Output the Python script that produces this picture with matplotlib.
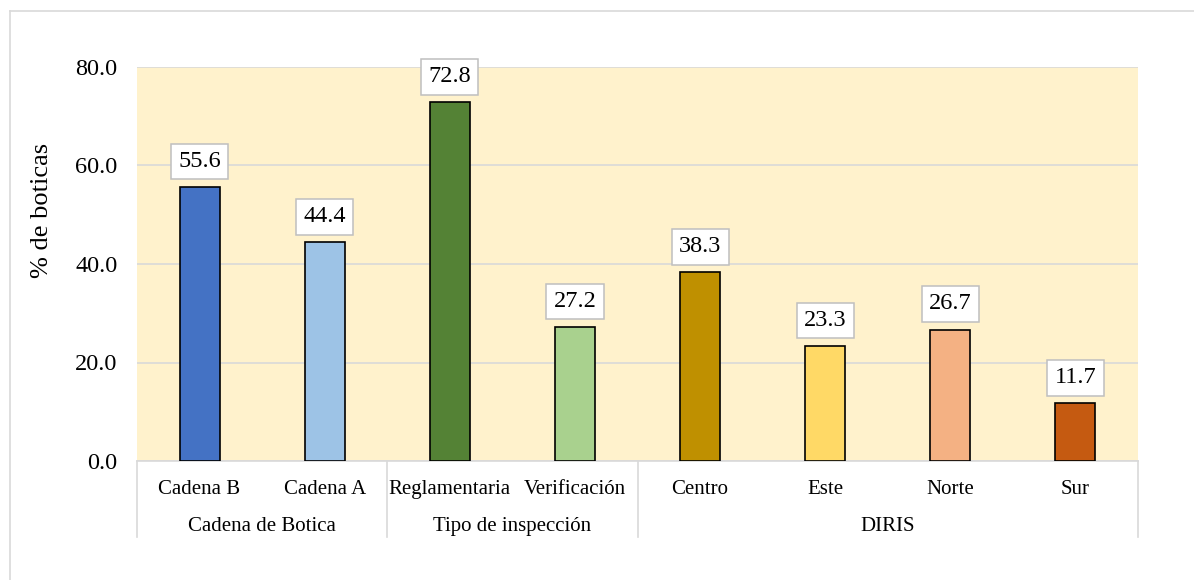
import numpy as np
import matplotlib
matplotlib.use("Agg")
from matplotlib import pyplot as plt
from matplotlib.lines import Line2D

plt.rcParams['font.family'] = ['Liberation Serif', 'DejaVu Serif']

# datos
categorias = ["Cadena B", "Cadena A", "Reglamentaria", "Verificación",
              "Centro", "Este", "Norte", "Sur"]
valores = [55.6, 44.4, 72.8, 27.2, 38.3, 23.3, 26.7, 11.7]
grupos = ["Cadena de Botica", "Tipo de inspección", "DIRIS"]
tam_grupos = [2, 2, 4]
colores = ["#4472C4", "#9DC3E6", "#548235", "#A9D18E",
           "#BF9000", "#FFD966", "#F4B183", "#C55A11"]

W, H = 1194, 580
fig = plt.figure(figsize=(W / 100, H / 100), dpi=100)
ax = fig.add_axes([137 / W, (H - 461) / H, 1001 / W, 394 / H])
ax.set_facecolor("#FFF2CC")

x = np.arange(len(categorias))
ax.bar(x, valores, width=0.32, color=colores, edgecolor="black", linewidth=1.2, zorder=3)

for xi, v in zip(x, valores):
    ax.annotate(f"{v:.1f}", (xi, v), xytext=(0, 18.4), textcoords="offset points",
                ha="center", va="center", fontsize=17.5, zorder=4,
                bbox=dict(boxstyle="square,pad=0.3", fc="white", ec="#BFBFBF", lw=1.1))

ax.set_xlim(-0.5, len(categorias) - 0.5)
ax.set_ylim(0, 80)
ax.set_yticks([0, 20, 40, 60, 80])
ax.set_yticklabels([f"{t:.1f}" for t in [0, 20, 40, 60, 80]])
ax.set_xticks(x)
ax.set_xticklabels(categorias)
ax.tick_params(axis="y", length=0, pad=14, labelsize=17.5)
ax.tick_params(axis="x", length=0, pad=14, labelsize=15)
ax.yaxis.grid(True, color="#D9D9D9", linewidth=1.2, zorder=0)
ax.set_axisbelow(True)
for s in ["top", "right", "left"]:
    ax.spines[s].set_visible(False)
ax.spines["bottom"].set_color("#D9D9D9")
ax.spines["bottom"].set_linewidth(1.2)

# etiquetas de grupo y separadores
trans = ax.get_xaxis_transform()
inicio = -0.5
ax.plot([inicio, inicio], [0, -0.193], color="#D9D9D9", lw=1.2, transform=trans, clip_on=False)
for g, n in zip(grupos, tam_grupos):
    fin = inicio + n
    ax.text((inicio + fin) / 2, -0.165, g, ha="center", va="center", fontsize=15, transform=trans)
    ax.plot([fin, fin], [0, -0.193], color="#D9D9D9", lw=1.2, transform=trans, clip_on=False)
    inicio = fin

fig.text(42 / W, 1 - 210 / H, "% de boticas", rotation=90, ha="center", va="center", fontsize=19)

# borde exterior
fig.add_artist(Line2D([10 / W, 1], [1 - 11 / H, 1 - 11 / H], color="#D9D9D9", lw=1.2))
fig.add_artist(Line2D([10 / W, 10 / W], [0, 1 - 11 / H], color="#D9D9D9", lw=1.2))

fig.savefig("out.png", dpi=100)
